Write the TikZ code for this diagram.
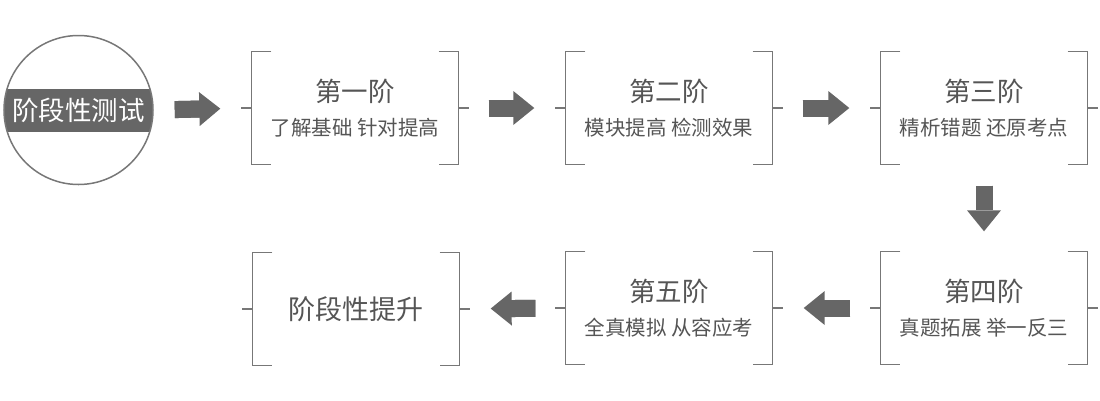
\documentclass[tikz,border=0pt]{standalone}
\usepackage{fontspec}
\setmainfont{Noto Sans CJK SC}
\usetikzlibrary{arrows.meta}
\definecolor{linegray}{HTML}{777777}
\definecolor{arrowgray}{HTML}{666666}
\definecolor{textgray}{HTML}{555555}
\tikzset{
  stage/.style= {minimum width=207pt, minimum height=113pt, inner sep=0, align=center,
    text=textgray, font=\fontsize{20.5}{34}\selectfont},
  ring/.style= {circle, draw=linegray, line width=1.5pt, minimum size=149pt, inner sep=0,
    text=white, font=\fontsize{26.5}{30}\selectfont,
    path picture={\fill[arrowgray] ([yshift=-21.5pt]path picture bounding box.west)
      rectangle ([yshift=21.5pt]path picture bounding box.east);}},
  bracket/.style= {draw=linegray, line width=1.5pt},
  flow/.style= {arrowgray, line width=17pt, shorten <=30pt, shorten >=31pt,
    -{Triangle[width=34pt, length=21pt, line width=0pt]},
    postaction={draw, arrows=-, shorten >=48pt}},
}
\newcommand{\stitle}[1]{{\fontsize{26.5}{34}\selectfont #1}}

\begin{document}
\begin{tikzpicture}[x=1pt, y=-1pt]
  \useasboundingbox (0,0) rectangle (1100,400);
  \node [ring] (c) at (78.5,110) {阶段性测试};
  \node [stage] (s1) at (355,108) {\stitle{第一阶}\\ 了解基础 针对提高};
  \node [stage] (s2) at (669,108) {\stitle{第二阶}\\ 模块提高 检测效果};
  \node [stage] (s3) at (984,108) {\stitle{第三阶}\\ 精析错题 还原考点};
  \node [stage] (s4) at (984,308) {\stitle{第四阶}\\ 真题拓展 举一反三};
  \node [stage] (s5) at (669,308) {\stitle{第五阶}\\ 全真模拟 从容应考};
  \node [stage, font=\fontsize{27}{30}\selectfont] (s6) at (356,309) {阶段性提升};

  % brackets round each stage
  \foreach \n in {s1,s2,s3,s4,s5,s6} {
    \draw [bracket] ([xshift=20pt]\n.north west) -| (\n.south west) -- ++(20,0);
    \draw [bracket] ([xshift=-20pt]\n.north east) -| (\n.south east) -- ++(-20,0);
    \draw [bracket] (\n.west) -- ++(-10,0);
    \draw [bracket] (\n.east) -- ++(10,0);
  }

  \draw [flow, shorten <=21pt] (c.east) -- (s1.west);
  \draw [flow] (s1) -- (s2);
  \draw [flow] (s2) -- (s3);
  \draw [flow, shorten <=21pt, shorten >=20pt, postaction={shorten >=37pt}] (s3) -- (s4);
  \draw [flow] (s4) -- (s5);
  \draw [flow] (s5) -- (s6);
\end{tikzpicture}
\end{document}
